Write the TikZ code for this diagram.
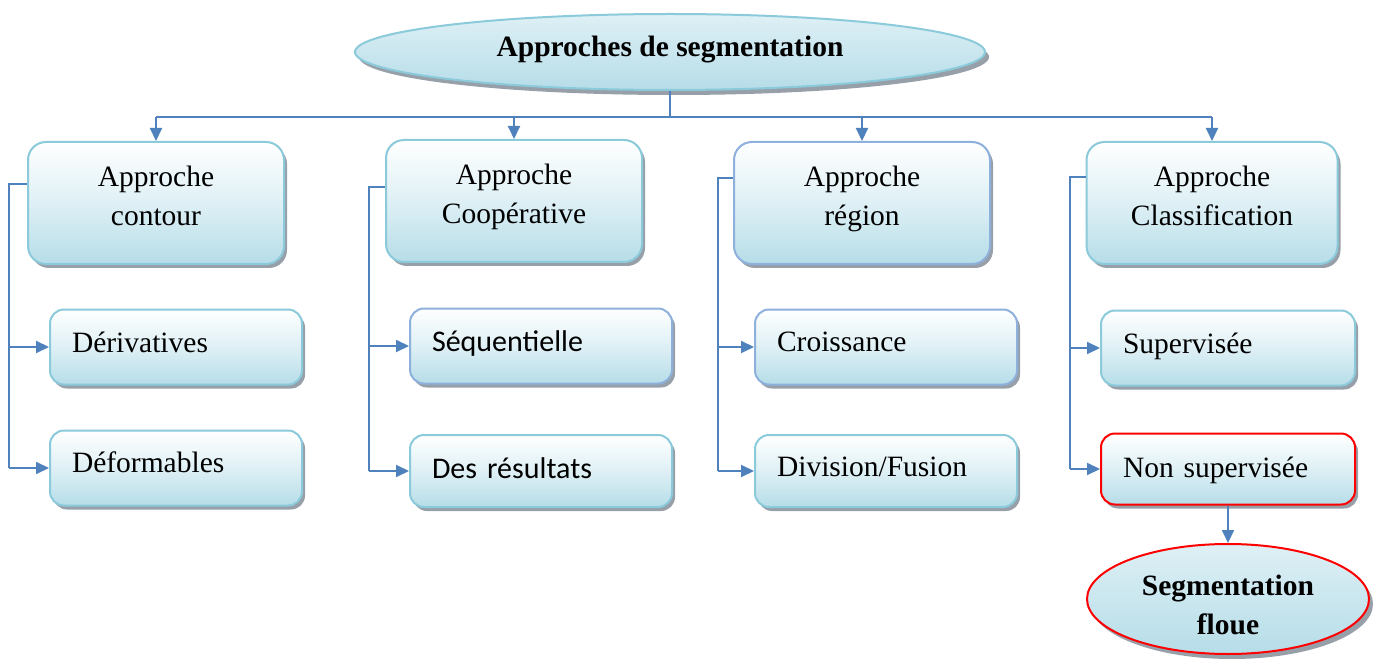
\documentclass[tikz,border=0pt]{standalone}
\usepackage{fontspec}
\setmainfont{Liberation Serif}
\newfontfamily\calibrifont{Carlito}
\usetikzlibrary{shapes.geometric,arrows.meta,shadows}

\definecolor{linkblue}{RGB}{79,129,189}
\definecolor{edgecyan}{RGB}{138,202,218}
\definecolor{edgeblue}{RGB}{141,176,220}
\definecolor{fillbottom}{RGB}{182,221,232}
\definecolor{fillmid}{RGB}{222,240,245}
\definecolor{shadowgray}{RGB}{140,150,160}

\tikzset{
  txt/.style={font=\fontsize{29.5}{39}\selectfont},
  calibritxt/.style={font=\calibrifont\fontsize{30}{39}\selectfont},
  boxbase/.style={rectangle, rounded corners=18pt, line width=2pt,
    top color=white, bottom color=fillbottom, middle color=fillmid,
    drop shadow={shadow xshift=3pt, shadow yshift=-4pt, fill=shadowgray, opacity=0.9}},
  headbox/.style={boxbase, draw=edgecyan, minimum width=256pt, minimum height=122pt,
    align=center, txt, inner sep=0pt},
  subbox/.style={boxbase, draw=edgecyan, minimum width=252pt, minimum height=75pt,
    text width=208pt, align=left, inner xsep=22pt, inner ysep=0pt, txt, rounded corners=14pt,
    text height=20pt, text depth=9pt},
  lift/.style={text depth=#1},
  bluedge/.style={draw=edgeblue},
  rededge/.style={draw=red},
  oval/.style={ellipse, line width=2pt, draw=edgecyan, inner sep=0pt,
    top color=fillmid, bottom color=fillbottom,
    drop shadow={shadow xshift=4pt, shadow yshift=-5pt, fill=shadowgray, opacity=0.9},
    font=\bfseries\fontsize{29.5}{39}\selectfont, align=center},
  conn/.style={draw=linkblue, line width=2pt},
  arr/.style={conn, -{Triangle[length=13pt,width=12pt]}}
}

\begin{document}
\begin{tikzpicture}[x=1pt,y=-1pt]
\useasboundingbox (0,0) rectangle (1381,660);

% root
\node[oval, minimum width=630pt, minimum height=76pt] (root) at (670,52) {Approches de segmentation\\[-28pt]};

% four families
\node[headbox] (contour) at (156,203) {Approche\\contour\\[-24pt]};
\node[headbox] (coop) at (514,201) {Approche\\Coopérative\\[-24pt]};
\node[headbox, bluedge] (region) at (862,203) {Approche\\région\\[-24pt]};
\node[headbox, minimum width=251pt] (classif) at (1212,203) {Approche\\Classification\\[-24pt]};

% methods
\node[subbox] (deriv) at (176,347) {Dérivatives};
\node[subbox, lift=11pt] (deform) at (176,468) {Déformables};
\node[subbox, bluedge, minimum width=262pt, text width=218pt, calibritxt] (seq) at (541,346) {Séquentielle};
\node[subbox, minimum width=262pt, text width=218pt, minimum height=72pt, calibritxt, lift=5pt] (res) at (541,471) {Des résultats};
\node[subbox, bluedge, minimum width=262pt, text width=218pt, lift=11pt] (crois) at (886,347) {Croissance};
\node[subbox, minimum width=262pt, text width=218pt, minimum height=72pt] (divf) at (886,471) {Division/Fusion};
\node[subbox, minimum width=254pt, text width=210pt] (sup) at (1228,348) {Supervisée};
\node[subbox, rededge, minimum width=254pt, text width=210pt, minimum height=71pt, lift=3pt] (nonsup) at (1228,469) {Non supervisée};

% fuzzy segmentation
\node[oval, rededge, minimum width=282pt, minimum height=110pt] (floue) at (1228,599) {Segmentation\\floue\\[-50pt]};

% bus from the root
\draw[conn] (root.south) -- ++(0,26) coordinate (bus);
\draw[conn] (contour.north |- bus) -- (classif.north |- bus);
\foreach \n in {contour,coop,region,classif}
  \draw[arr] (\n.north |- bus) -- (\n.north);

% side brackets
\draw[conn] ([yshift=19pt]contour.west) -- ++(-18,0) coordinate (k1) -- (k1 |- deform.west);
\draw[arr] (k1 |- deriv.west) -- (deriv.west);
\draw[arr] (k1 |- deform.west) -- (deform.west);

\draw[conn] ([yshift=14pt]coop.west) -- ++(-16,0) coordinate (k2) -- (k2 |- res.west);
\draw[arr] (k2 |- seq.west) -- (seq.west);
\draw[arr] (k2 |- res.west) -- (res.west);

\draw[conn] ([yshift=25pt]region.west) -- ++(-15,0) coordinate (k3) -- (k3 |- divf.west);
\draw[arr] (k3 |- crois.west) -- (crois.west);
\draw[arr] (k3 |- divf.west) -- (divf.west);

\draw[conn] ([yshift=26pt]classif.west) -- ++(-16,0) coordinate (k4) -- (k4 |- nonsup.west);
\draw[arr] (k4 |- sup.west) -- (sup.west);
\draw[arr] (k4 |- nonsup.west) -- (nonsup.west);

\draw[arr] (nonsup.south) -- (floue.north);
\end{tikzpicture}
\end{document}
